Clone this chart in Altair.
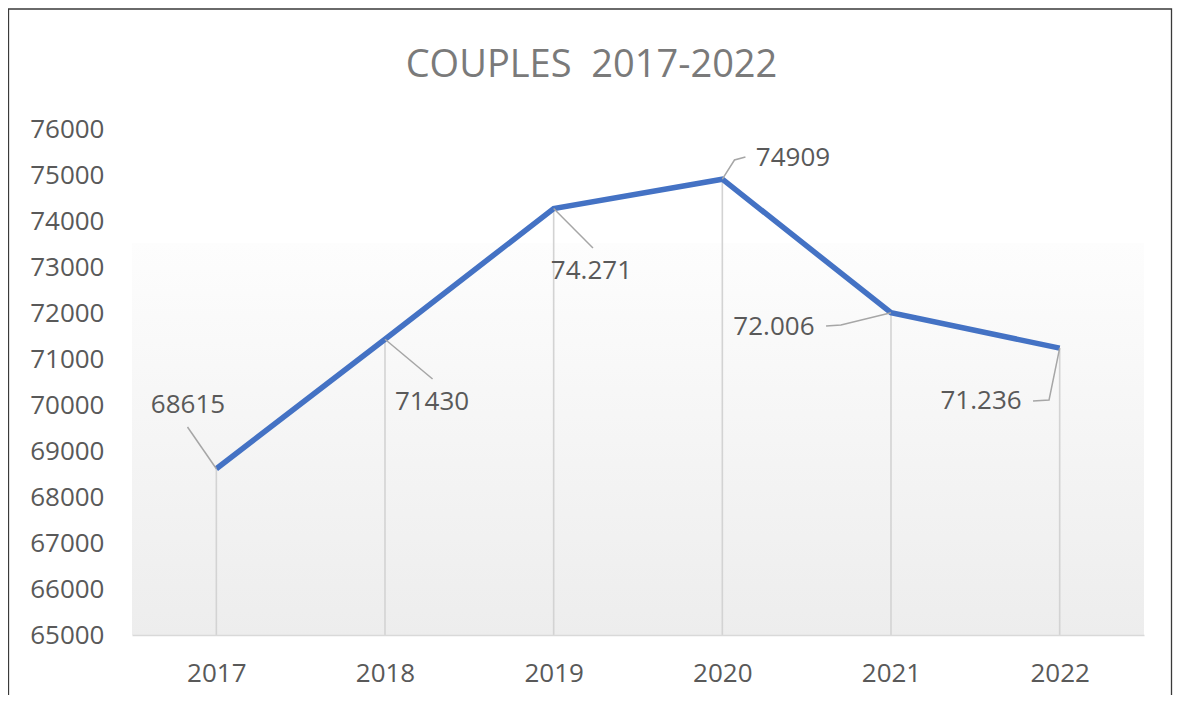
import altair as alt
import pandas as pd

# ---- data ----
years = [2017, 2018, 2019, 2020, 2021, 2022]
couples = [68615, 71430, 74271, 74909, 72006, 71236]
label_texts = ["68615", "71430", "74.271", "74909", "72.006", "71.236"]
y_ticks = list(range(65000, 76001, 1000))

# annotation anchors (data units: year, value)
label_year = [2016.832, 2018.279, 2019.224, 2020.419, 2020.306, 2021.534]
label_value = [70000, 70065, 72913, 75370, 71696, 70087]
leader_year = [[2016.829], [2018.282], [2019.233], [2020.072, 2020.137],
               [2020.703, 2020.615], [2021.937, 2021.842]]
leader_value = [[69522], [70565], [73413], [75326, 75391],
                [71739, 71717], [70109, 70087]]

TITLE = "COUPLES\u00a0 2017-2022"
FONT = "Open Sans"
TXT = "#595959"
W, H = 1012, 506

df = pd.DataFrame({"year": years, "couples": couples, "label": label_texts,
                   "lx": label_year, "ly": label_value})

rows = []
for i, (yr, v) in enumerate(zip(years, couples)):
    rows.append({"id": i, "seq": 0, "x": yr, "y": v})
    for j, (lx, ly) in enumerate(zip(leader_year[i], leader_value[i])):
        rows.append({"id": i, "seq": j + 1, "x": lx, "y": ly})
leaders = pd.DataFrame(rows)

one = pd.DataFrame({"a": [0]})

xscale = alt.Scale(domain=[2016.5, 2022.5], nice=False, zero=False)
yscale = alt.Scale(domain=[65000, 76000], nice=False, zero=False)

xaxis = alt.Axis(values=years, format="d", grid=False, ticks=False, tickSize=0,
                 labelPadding=25, domainColor="#d9d9d9", domainWidth=1.5,
                 labelFont=FONT, labelFontSize=26, labelColor=TXT,
                 title=None, zindex=1)
yaxis = alt.Axis(values=y_ticks, format="d", grid=False, ticks=False, tickSize=0,
                 domain=False, labelPadding=28, labelFont=FONT, labelFontSize=26,
                 labelColor=TXT, title=None)


def X(f):
    return alt.X(f, scale=xscale, axis=xaxis, title=None)


def Y(f):
    return alt.Y(f, scale=yscale, axis=yaxis, title=None)


border = alt.Chart(one).mark_rect(filled=False, stroke="#3a3a3a", strokeWidth=1.3).encode(
    x=alt.value(-123.5), x2=alt.value(1039.5), y=alt.value(-120), y2=alt.value(700)
)

grad = alt.Chart(one).mark_rect(
    fill={"gradient": "linear",
          "stops": [{"offset": 0, "color": "#fdfdfd"}, {"offset": 1, "color": "#ededed"}],
          "x1": 0, "x2": 0, "y1": 0, "y2": 1}
).encode(x=alt.value(0), x2=alt.value(W), y=alt.value(114), y2=alt.value(H))

drops = alt.Chart(df).mark_rule(color="#d3d3d3", strokeWidth=1.6).encode(
    x=X("year:Q"), y=Y("couples:Q"), y2=alt.datum(65000),
)

line = alt.Chart(df).mark_line(color="#4472C4", strokeWidth=5.5).encode(
    x=X("year:Q"), y=Y("couples:Q"),
)

leader = alt.Chart(leaders).mark_line(color="#a6a6a6", strokeWidth=1.5).encode(
    x=X("x:Q"), y=Y("y:Q"), detail="id:N", order="seq:Q",
)

labels = alt.Chart(df).mark_text(font=FONT, fontSize=26, color=TXT, align="center",
                                 baseline="middle").encode(
    x=X("lx:Q"), y=Y("ly:Q"), text="label:N",
)

title = alt.Chart(one).mark_text(text=TITLE, font=FONT, fontSize=38,
                                 color="#7a7a7a", align="center",
                                 baseline="alphabetic").encode(
    x=alt.value(459.5), y=alt.value(-52)
)

chart = alt.layer(border, grad, drops, line, leader, labels, title).properties(
    width=W, height=H,
    autosize=alt.AutoSizeParams(type="none"),
    padding={"left": 124, "top": 121, "right": 29, "bottom": 60},
).configure_view(stroke=None)

chart.save("out.html", embed_options={"renderer": "svg", "actions": False})
